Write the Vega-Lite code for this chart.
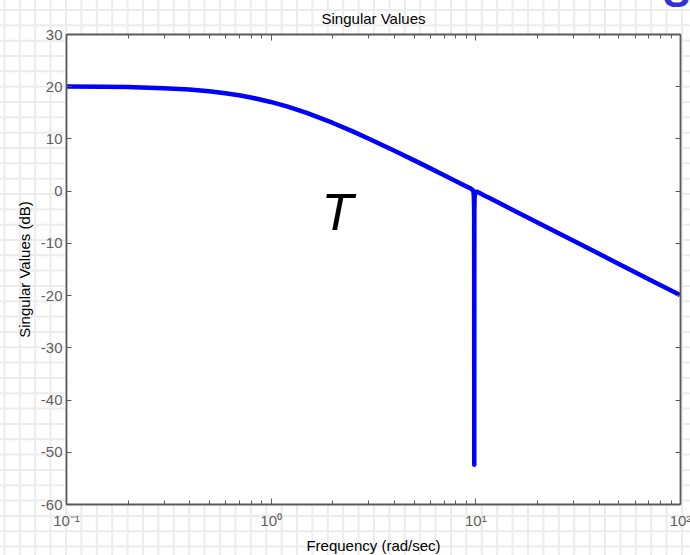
{
  "$schema": "https://vega.github.io/schema/vega-lite/v6.json",
  "width": 614,
  "height": 470,
  "autosize": {"type": "none"},
  "padding": {"left": 66, "top": 34, "right": 10, "bottom": 51},
  "background": "white",
  "config": {"view": {"stroke": null}, "font": "Liberation Sans"},
  "layer": [
    {
      "layer": [
        {
          "data": {"values": [
            {"gx": -4}, {"gx": -3}, {"gx": -2}, {"gx": -1}, {"gx": 0}, {"gx": 1}, {"gx": 2}, {"gx": 3}, {"gx": 4},
            {"gx": 5}, {"gx": 6}, {"gx": 7}, {"gx": 8}, {"gx": 9}, {"gx": 10}, {"gx": 11}, {"gx": 12}, {"gx": 13},
            {"gx": 14}, {"gx": 15}, {"gx": 16}, {"gx": 17}, {"gx": 18}, {"gx": 19}, {"gx": 20}, {"gx": 21}, {"gx": 22},
            {"gx": 23}, {"gx": 24}, {"gx": 25}, {"gx": 26}, {"gx": 27}, {"gx": 28}, {"gx": 29}, {"gx": 30}, {"gx": 31},
            {"gx": 32}, {"gx": 33}, {"gx": 34}, {"gx": 35}, {"gx": 36}, {"gx": 37}, {"gx": 38}, {"gx": 39}, {"gx": 40}
          ]},
          "mark": {"type": "rule", "color": "#ececec", "strokeWidth": 2},
          "encoding": {
            "x": {"field": "gx", "type": "quantitative", "scale": {"domain": [0, 39.87], "nice": false, "zero": false}, "axis": null},
            "y": {"datum": -4, "type": "quantitative", "scale": {"domain": [-0.224, 30.436], "nice": false, "zero": false}, "axis": null},
            "y2": {"datum": 33}
          }
        },
        {
          "data": {"values": [
            {"gy": -3}, {"gy": -2}, {"gy": -1}, {"gy": 0}, {"gy": 1}, {"gy": 2}, {"gy": 3}, {"gy": 4}, {"gy": 5},
            {"gy": 6}, {"gy": 7}, {"gy": 8}, {"gy": 9}, {"gy": 10}, {"gy": 11}, {"gy": 12}, {"gy": 13}, {"gy": 14},
            {"gy": 15}, {"gy": 16}, {"gy": 17}, {"gy": 18}, {"gy": 19}, {"gy": 20}, {"gy": 21}, {"gy": 22}, {"gy": 23},
            {"gy": 24}, {"gy": 25}, {"gy": 26}, {"gy": 27}, {"gy": 28}, {"gy": 29}, {"gy": 30}, {"gy": 31}, {"gy": 32}
          ]},
          "mark": {"type": "rule", "color": "#ececec", "strokeWidth": 2},
          "encoding": {
            "y": {"field": "gy", "type": "quantitative", "scale": {"domain": [-0.224, 30.436], "nice": false, "zero": false}, "axis": null},
            "x": {"datum": -5, "type": "quantitative", "scale": {"domain": [0, 39.87], "nice": false, "zero": false}, "axis": null},
            "x2": {"datum": 41}
          }
        }
      ]
    },
    {
      "layer": [
        {
          "data": {"values": [{}]},
          "mark": {"type": "rect", "color": "white"},
          "encoding": {
            "x": {
              "datum": 0.1, "type": "quantitative",
              "scale": {"type": "log", "domain": [0.1, 100], "nice": false},
              "axis": {
                "orient": "top", "labels": false, "grid": false, "zindex": 1,
                "values": [0.1, 0.2, 0.3, 0.4, 0.5, 0.6, 0.7, 0.8, 0.9, 1, 2, 3, 4, 5, 6, 7, 8, 9, 10, 20, 30, 40, 50, 60, 70, 80, 90, 100],
                "tickSize": {"condition": {"test": "datum.value == 0.1 || datum.value == 1 || datum.value == 10 || datum.value == 100", "value": -6}, "value": -4},
                "tickColor": "#5a5a5a", "tickWidth": 1,
                "domainColor": "#5a5a5a", "domainWidth": 1.8,
                "title": "Singular Values", "titleFontSize": 15, "titleFontWeight": "normal",
                "titleColor": "black", "titlePadding": 7
              }
            },
            "x2": {"datum": 100},
            "y": {
              "datum": -60, "type": "quantitative",
              "scale": {"domain": [-60, 30], "nice": false, "zero": false},
              "axis": {
                "orient": "right", "title": null, "labels": false, "grid": false, "zindex": 1,
                "values": [-60, -50, -40, -30, -20, -10, 0, 10, 20, 30],
                "tickSize": -5, "tickColor": "#5a5a5a", "tickWidth": 1,
                "domainColor": "#5a5a5a", "domainWidth": 1.8
              }
            },
            "y2": {"datum": 30}
          }
        },
        {
          "data": {"values": [
            {"w": 0.1, "db": 19.96}, {"w": 0.15, "db": 19.9}, {"w": 0.2, "db": 19.83}, {"w": 0.3, "db": 19.63},
            {"w": 0.4, "db": 19.36}, {"w": 0.5, "db": 19.03}, {"w": 0.6, "db": 18.66}, {"w": 0.7, "db": 18.27},
            {"w": 0.8, "db": 17.85}, {"w": 1, "db": 16.99}, {"w": 1.2, "db": 16.13}, {"w": 1.5, "db": 14.88},
            {"w": 2, "db": 13.01}, {"w": 2.5, "db": 11.4}, {"w": 3, "db": 10.0}, {"w": 4, "db": 7.7},
            {"w": 5, "db": 5.85}, {"w": 6, "db": 4.32}, {"w": 7, "db": 3.01}, {"w": 8, "db": 1.87},
            {"w": 9, "db": 0.86}, {"w": 9.5, "db": 0.4}, {"w": 9.78, "db": 0.0}, {"w": 9.84, "db": -1.2},
            {"w": 9.87, "db": -4}, {"w": 9.88, "db": -52.5}, {"w": 9.89, "db": -4}, {"w": 9.92, "db": -1.2},
            {"w": 9.98, "db": -0.3}, {"w": 10.2, "db": -0.21}, {"w": 10.5, "db": -0.46}, {"w": 11, "db": -0.86},
            {"w": 12, "db": -1.61}, {"w": 15, "db": -3.54}, {"w": 20, "db": -6.03}, {"w": 30, "db": -9.55},
            {"w": 40, "db": -12.04}, {"w": 50, "db": -13.98}, {"w": 70, "db": -16.9}, {"w": 100, "db": -20.0}
          ]},
          "mark": {"type": "line", "color": "#0000ff", "strokeWidth": 4.5, "strokeJoin": "round"},
          "encoding": {
            "x": {
              "field": "w", "type": "quantitative",
              "scale": {"type": "log", "domain": [0.1, 100], "nice": false},
              "axis": {
                "orient": "bottom", "grid": false, "zindex": 1,
                "values": [0.1, 0.2, 0.3, 0.4, 0.5, 0.6, 0.7, 0.8, 0.9, 1, 2, 3, 4, 5, 6, 7, 8, 9, 10, 20, 30, 40, 50, 60, 70, 80, 90, 100],
                "labelExpr": "datum.value == 0.1 ? '10⁻¹' : datum.value == 1 ? '10⁰' : datum.value == 10 ? '10¹' : datum.value == 100 ? '10²' : ''",
                "labelFlush": false, "labelOverlap": false,
                "labelFontSize": 15, "labelColor": "#606060", "labelPadding": 15,
                "tickSize": {"condition": {"test": "datum.value == 0.1 || datum.value == 1 || datum.value == 10 || datum.value == 100", "value": -6}, "value": -4},
                "tickColor": "#5a5a5a", "tickWidth": 1,
                "domainColor": "#5a5a5a", "domainWidth": 1.8,
                "title": "Frequency (rad/sec)", "titleFontSize": 15, "titleFontWeight": "normal",
                "titleColor": "black", "titlePadding": 8
              }
            },
            "y": {
              "field": "db", "type": "quantitative",
              "scale": {"domain": [-60, 30], "nice": false, "zero": false},
              "axis": {
                "orient": "left", "grid": false, "zindex": 1,
                "values": [-60, -50, -40, -30, -20, -10, 0, 10, 20, 30],
                "labelExpr": "datum.value + ''",
                "labelFontSize": 15, "labelColor": "#606060", "labelPadding": 9,
                "tickSize": -5, "tickColor": "#5a5a5a", "tickWidth": 1,
                "domainColor": "#5a5a5a", "domainWidth": 1.8,
                "title": "Singular Values (dB)", "titleFontSize": 15, "titleFontWeight": "normal",
                "titleColor": "black", "titlePadding": 8
              }
            }
          }
        },
        {
          "data": {"values": [{"label": "T", "w": 2.12, "db": -7.6}]},
          "mark": {"type": "text", "fontSize": 52, "fontStyle": "italic", "color": "black", "align": "center", "baseline": "alphabetic"},
          "encoding": {
            "x": {"field": "w", "type": "quantitative", "scale": {"type": "log", "domain": [0.1, 100], "nice": false}, "axis": null},
            "y": {"field": "db", "type": "quantitative", "scale": {"domain": [-60, 30], "nice": false, "zero": false}, "axis": null},
            "text": {"field": "label"}
          }
        },
        {
          "data": {"values": [{"label": "S", "w": 96.2, "db": 35.1}]},
          "mark": {"type": "text", "fontSize": 40, "fontWeight": "bold", "color": "#3131d4", "align": "center", "baseline": "alphabetic"},
          "encoding": {
            "x": {"field": "w", "type": "quantitative", "scale": {"type": "log", "domain": [0.1, 100], "nice": false}, "axis": null},
            "y": {"field": "db", "type": "quantitative", "scale": {"domain": [-60, 30], "nice": false, "zero": false}, "axis": null},
            "text": {"field": "label"}
          }
        }
      ],
      "resolve": {"axis": {"x": "independent", "y": "independent"}}
    }
  ],
  "resolve": {"scale": {"x": "independent", "y": "independent"}}
}
